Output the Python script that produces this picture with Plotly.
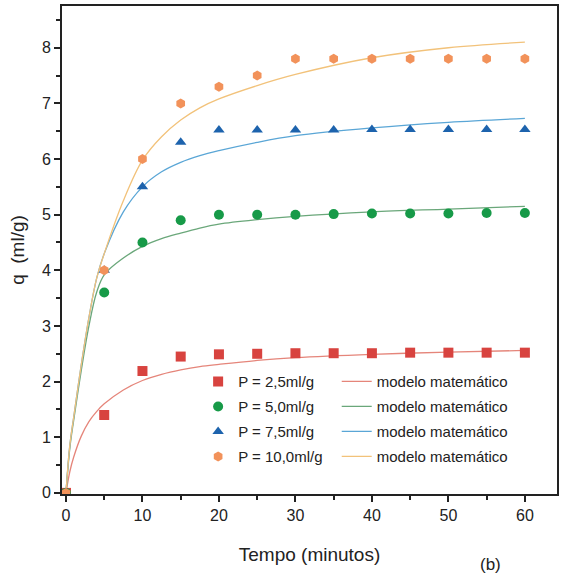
import plotly.graph_objects as go

# Experimental data
t_exp = [0, 5, 10, 15, 20, 25, 30, 35, 40, 45, 50, 55, 60]
q_25 = [0, 1.40, 2.19, 2.45, 2.49, 2.50, 2.51, 2.51, 2.51, 2.52, 2.52, 2.52, 2.52]
q_50 = [0, 3.60, 4.50, 4.90, 5.00, 5.00, 5.00, 5.01, 5.02, 5.02, 5.02, 5.03, 5.03]
q_75 = [0, 4.00, 5.50, 6.30, 6.52, 6.52, 6.52, 6.52, 6.53, 6.53, 6.53, 6.53, 6.53]
q_100 = [0, 4.00, 6.00, 7.00, 7.30, 7.50, 7.80, 7.80, 7.80, 7.80, 7.80, 7.80, 7.80]

# Model curves
t_mod = [0, 0.5, 1, 2, 3, 4, 5, 7.5, 10, 12.5, 15, 17.5, 20, 25, 30, 40, 50, 60]
m_25 = [0, 0.38, 0.64, 1.02, 1.28, 1.46, 1.60, 1.85, 2.02, 2.13, 2.21, 2.27, 2.31, 2.38, 2.43, 2.49, 2.53, 2.56]
m_50 = [0, 0.80, 1.30, 2.20, 3.00, 3.60, 3.92, 4.22, 4.43, 4.57, 4.67, 4.76, 4.83, 4.91, 4.97, 5.05, 5.10, 5.15]
m_75 = [0, 0.85, 1.35, 2.30, 3.15, 3.85, 4.30, 5.05, 5.50, 5.77, 5.94, 6.06, 6.15, 6.30, 6.42, 6.56, 6.66, 6.73]
m_100 = [0, 0.85, 1.35, 2.30, 3.15, 3.85, 4.30, 5.25, 5.98, 6.40, 6.70, 6.92, 7.08, 7.32, 7.52, 7.82, 8.00, 8.10]

labels = ["P = 2,5ml/g", "P = 5,0ml/g", "P = 7,5ml/g", "P = 10,0ml/g"]
model_label = "modelo matemático"

marker_colors = ["#d8433f", "#179a48", "#1d63ad", "#f2925a"]
line_colors = ["#e5857a", "#6aa77a", "#5aa6d6", "#f2c27a"]
symbols = ["square", "circle", "triangle-up", "hexagon"]

exp_series = [q_25, q_50, q_75, q_100]
mod_series = [m_25, m_50, m_75, m_100]

fig = go.Figure()

for i in range(4):
    fig.add_trace(go.Scatter(
        x=t_mod, y=mod_series[i], mode="lines", name=model_label,
        line=dict(color=line_colors[i], width=1.3, shape="spline", smoothing=1.0),
        legend="legend2", legendgroup="m%d" % i, legendrank=i + 1,
    ))

for i in range(4):
    fig.add_trace(go.Scatter(
        x=t_exp, y=exp_series[i], mode="markers", name=labels[i],
        marker=dict(color=marker_colors[i], symbol=symbols[i], size=10, line=dict(width=0)),
        legend="legend", legendgroup="e%d" % i, legendrank=i + 1,
    ))

font_family = "Liberation Sans, Arial, sans-serif"

axis_common = dict(
    showline=True, linecolor="#222222", linewidth=2, mirror=True,
    ticks="outside", tickcolor="#222222", tickwidth=1.5, ticklen=6,
    showgrid=False, zeroline=False,
    tickfont=dict(family=font_family, size=16, color="#222222"),
)

fig.update_layout(
    width=569, height=580,
    margin=dict(l=62, r=12, t=4, b=86),
    paper_bgcolor="white", plot_bgcolor="white",
    font=dict(family=font_family, color="#222222"),
    xaxis=dict(
        range=[-0.52, 64.2], tickmode="array", tickvals=[0, 10, 20, 30, 40, 50, 60],
        minor=dict(ticks="outside", tickvals=[5, 15, 25, 35, 45, 55], ticklen=4,
                   tickcolor="#222222", tickwidth=1.5),
        title=dict(text="Tempo (minutos)", font=dict(family=font_family, size=19), standoff=24),
        **axis_common,
    ),
    yaxis=dict(
        range=[-0.02, 8.75], tickmode="array", tickvals=[0, 1, 2, 3, 4, 5, 6, 7, 8],
        minor=dict(ticks="outside", tickvals=[0.5, 1.5, 2.5, 3.5, 4.5, 5.5, 6.5, 7.5, 8.5],
                   ticklen=4, tickcolor="#222222", tickwidth=1.5),
        title=dict(text="q  (ml/g)", font=dict(family=font_family, size=19), standoff=12),
        **axis_common,
    ),
    legend=dict(
        x=0.275, y=0.264, xanchor="left", yanchor="top",
        bgcolor="rgba(0,0,0,0)", borderwidth=0,
        font=dict(family=font_family, size=15, color="#222222"),
        tracegroupgap=2.5,
    ),
    legend2=dict(
        x=0.555, y=0.264, xanchor="left", yanchor="top",
        bgcolor="rgba(0,0,0,0)", borderwidth=0,
        font=dict(family=font_family, size=15, color="#222222"),
        tracegroupgap=2.5,
    ),
    annotations=[dict(
        text="(b)", xref="paper", yref="paper", x=0.865, y=-0.145,
        xanchor="center", yanchor="middle", showarrow=False,
        font=dict(family=font_family, size=17, color="#222222"),
    )],
)

fig.write_html("out.html")
